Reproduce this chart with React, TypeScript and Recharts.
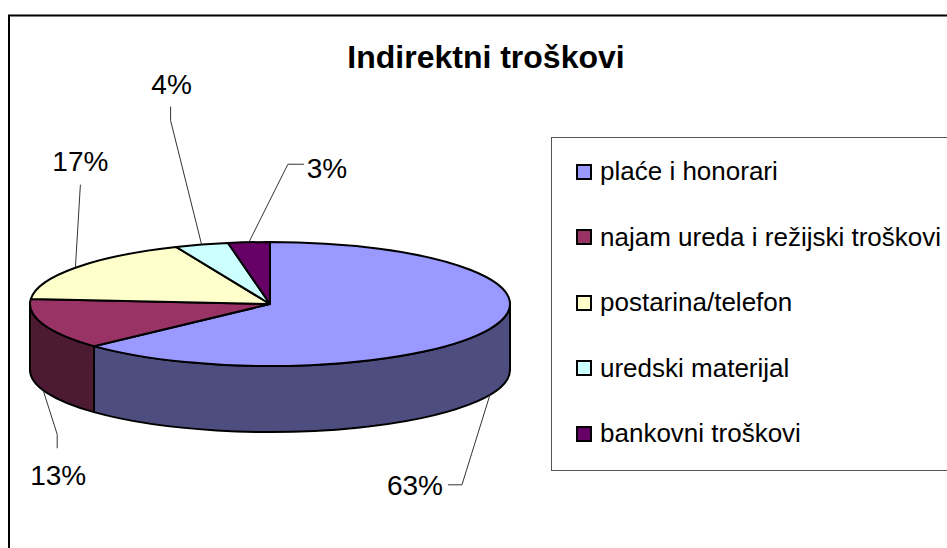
import React from "react";
import { PieChart, Pie, Legend } from "recharts";

const categories = [
  "plaće i honorari",
  "najam ureda i režijski troškovi",
  "postarina/telefon",
  "uredski materijal",
  "bankovni troškovi",
];
const shares = [63.1, 13.2, 17.3, 3.6, 2.8];
const topColors = ["#9999FF", "#993366", "#FFFFCC", "#CCFFFF", "#660066"];
const wallColors = ["#4D4D80", "#4D1A33", "#808066", "#668080", "#330033"];

// Layout only: label centre, leader elbow and end stub, relative to the slice's rim point.
const labelOffsets = [
  { lx: -75, ly: 91, ex: -28, ey: 90, hx: -14, hy: 0 },
  { lx: 15, ly: 85, ex: 14, ey: 44, hx: 0, hy: 14 },
  { lx: 5, ly: -106, ex: 5, ey: -83, hx: 0, hy: 0 },
  { lx: -30, ly: -160, ex: -31, ey: -124, hx: 0, hy: -14 },
  { lx: 78, ly: -74, ex: 39, ey: -78, hx: 16, hy: 0 },
];

const CX = 270;
const CY = 304;
const RX = 240;
const RY = 62;
const DEPTH = 66;
const RAD = Math.PI / 180;
const px = (a: number) => CX + RX * Math.cos(a * RAD);
const py = (a: number) => CY - RY * Math.sin(a * RAD);
const FONT = "'Liberation Sans', Arial, sans-serif";

const table = categories.map((name, i) => ({
  name,
  value: shares[i],
  fill: topColors[i],
  wall: wallColors[i],
}));

function Slice3D(props: any) {
  const { startAngle, endAngle, fill, payload, index } = props;
  const wall = payload?.wall ?? wallColors[index ?? 0];
  const span = Math.abs(endAngle - startAngle);
  const large = span > 180 ? 1 : 0;
  const top = `M${CX},${CY} L${px(startAngle)},${py(startAngle)} A${RX},${RY} 0 ${large} 1 ${px(endAngle)},${py(endAngle)} Z`;
  // The visible wall is the part of the slice in the front half (angles 0 to -180).
  const s = Math.min(startAngle, 0);
  const e = Math.max(endAngle, -180);
  let side = null;
  if (s > e) {
    const d = `M${px(s)},${py(s)} A${RX},${RY} 0 ${s - e > 180 ? 1 : 0} 1 ${px(e)},${py(e)} L${px(e)},${py(e) + DEPTH} A${RX},${RY} 0 ${s - e > 180 ? 1 : 0} 0 ${px(s)},${py(s) + DEPTH} Z`;
    side = <path d={d} fill={wall} stroke="#000" strokeWidth={2} strokeLinejoin="round" />;
  }
  return (
    <g>
      {side}
      <path d={top} fill={fill} stroke="#000" strokeWidth={2} strokeLinejoin="round" />
    </g>
  );
}

function SliceLabel(props: any) {
  const { midAngle, index, value } = props;
  const o = labelOffsets[index];
  const front = Math.sin(midAngle * RAD) < 0;
  const ax = px(midAngle);
  const ay = py(midAngle) + (front ? DEPTH : 0);
  const ex = ax + o.ex;
  const ey = ay + o.ey;
  const pts = `${ax},${ay} ${ex},${ey} ${ex + o.hx},${ey + o.hy}`;
  return (
    <g>
      <polyline points={pts} fill="none" stroke="#333" strokeWidth={1} />
      <text
        x={ax + o.lx}
        y={ay + o.ly}
        textAnchor="middle"
        dominantBaseline="central"
        fontFamily={FONT}
        fontSize={28}
        fill="#000"
      >
        {`${Math.round(value)}%`}
      </text>
    </g>
  );
}

function LegendBox(props: any) {
  const items = props.payload ?? [];
  return (
    <div
      style={{
        boxSizing: "border-box",
        width: 420,
        height: 334,
        border: "1px solid #555",
        paddingTop: 1,
        fontFamily: FONT,
        fontSize: 26,
        color: "#000",
        background: "#fff",
      }}
    >
      {items.map((it: any) => (
        <div
          key={it.value}
          style={{ height: 65.5, display: "flex", alignItems: "center", paddingLeft: 24, whiteSpace: "nowrap" }}
        >
          <span
            style={{
              boxSizing: "border-box",
              width: 16,
              height: 16,
              border: "2px solid #000",
              background: it.color,
              marginRight: 8,
              flex: "none",
            }}
          />
          {it.value}
        </div>
      ))}
    </div>
  );
}

export default function App() {
  return (
    <div style={{ position: "absolute", left: 0, top: 0, width: 947, height: 548, overflow: "hidden", background: "#fff" }}>
      <PieChart width={947} height={548} margin={{ top: 0, right: 0, bottom: 0, left: 0 }}>
        <rect x={9} y={15.5} width={1200} height={1200} fill="none" stroke="#000" strokeWidth={2} />
        <text x={486} y={57} textAnchor="middle" dominantBaseline="central" fontFamily={FONT} fontWeight="bold" fontSize={32} fill="#000">
          Indirektni troškovi
        </text>
        <Pie
          data={table}
          dataKey="value"
          nameKey="name"
          cx={CX}
          cy={CY}
          outerRadius={RX}
          startAngle={90}
          endAngle={-270}
          paddingAngle={0}
          isAnimationActive={false}
          shape={Slice3D}
          label={SliceLabel}
          labelLine={false}
        />
        <Legend
          layout="vertical"
          align="right"
          verticalAlign="top"
          content={LegendBox}
          itemSorter={null}
          wrapperStyle={{ position: "absolute", left: 551, top: 137, width: 420, height: 334, margin: 0 }}
        />
      </PieChart>
    </div>
  );
}
